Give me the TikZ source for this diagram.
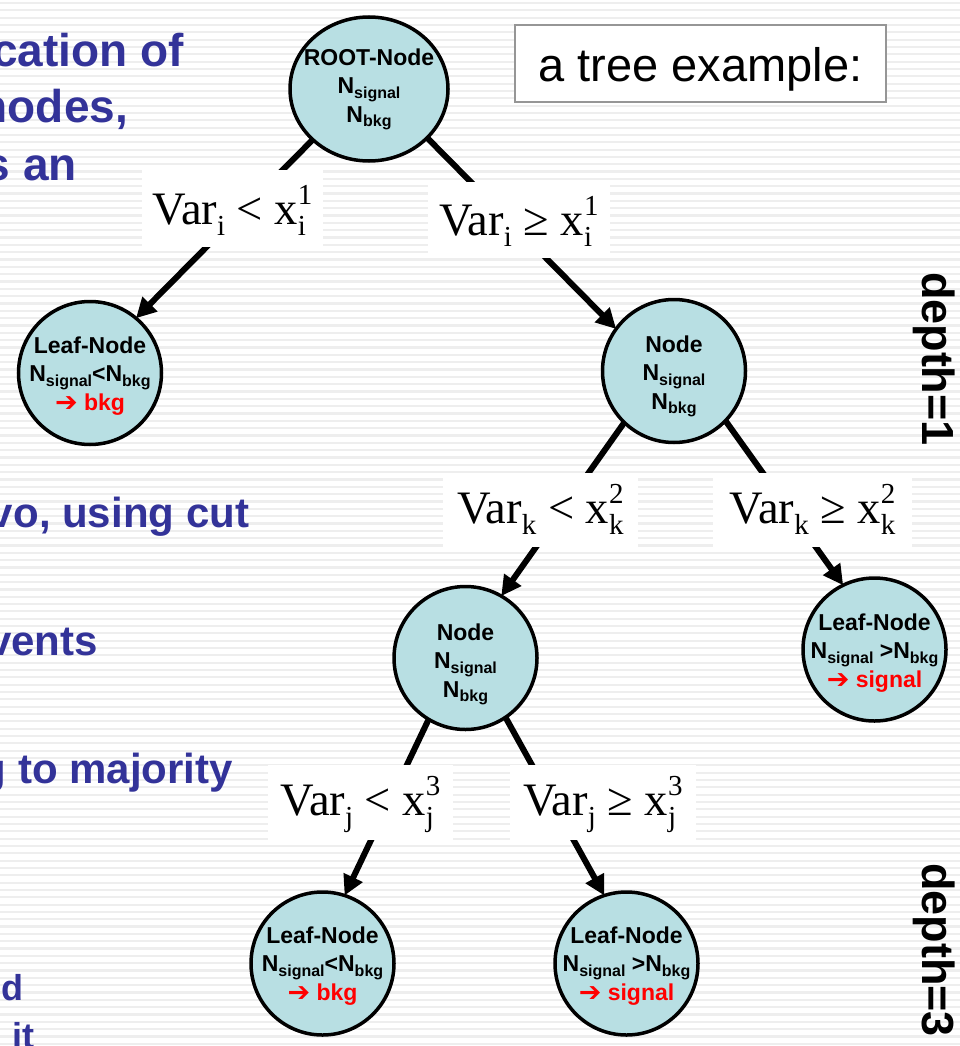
\documentclass[tikz,border=0pt]{standalone}
\usepackage{fontspec}
\setmainfont{Liberation Sans}
\newfontfamily\tnr{Liberation Serif}
\newfontfamily\djv{DejaVu Sans}
\usetikzlibrary{shapes.geometric,arrows.meta}
\definecolor{nodefill}{RGB}{184,223,227}
\definecolor{txtblue}{RGB}{51,51,153}
\definecolor{stripecol}{RGB}{238,238,238}
\definecolor{boxgray}{RGB}{150,150,150}
\pgfdeclarelayer{bg}
\pgfsetlayers{bg,main}
\newcommand{\sbs}[1]{\raisebox{-4.5pt}{\fontsize{16}{16}\selectfont #1}}
\newcommand{\rarr}{\raisebox{-1pt}{\djv\bfseries\fontsize{27}{27}\selectfont ➔}}
\newcommand{\smallfs}{\fontsize{29}{29}\selectfont}
\newcommand{\cnd}[4]{\fontsize{46.5}{46.5}\selectfont Var\raisebox{-11pt}{\smallfs #1}\ #2\ x\rlap{\raisebox{-11pt}{\smallfs #3}}\raisebox{20pt}{\smallfs #4}}
\begin{document}
\begin{tikzpicture}[x=1pt,y=-1pt,
  every node/.style={inner sep=0pt, outer sep=0pt},
  ellnode/.style={ellipse, draw=black, line width=3.5pt, fill=nodefill, minimum width=158pt, minimum height=144pt},
  circnode/.style={circle, draw=black, line width=3.5pt, fill=nodefill, minimum size=143pt},
  ntext/.style={anchor=north, align=center, font=\bfseries\fontsize{23}{28.5}\selectfont},
  connarrow/.style={line width=6pt, -{Triangle[length=20pt,width=20pt]}},
  condbox/.style={fill=white, font=\tnr, anchor=base, align=center},
  bluebig/.style={text=txtblue, font=\bfseries\fontsize{46}{46}\selectfont, anchor=base east},
  bluetext/.style={text=txtblue, font=\bfseries\fontsize{42}{42}\selectfont, anchor=base east},
  bluesmall/.style={text=txtblue, font=\bfseries\fontsize{36}{36}\selectfont, anchor=base east},
  depthlabel/.style={rotate=-90, anchor=base west, font=\bfseries\fontsize{45}{45}\selectfont}
]
\useasboundingbox (0,0) rectangle (960,1046);
\clip (0,0) rectangle (960,1046);

% tree nodes
\node[ellnode] (root) at (369,89) {};
\node[circnode] (leafL) at (90,373) {};
\node[circnode] (n1) at (674,371) {};
\node[circnode] (n2) at (465.5,658) {};
\node[circnode] (leafR) at (874.5,649.5) {};
\node[circnode] (leafBL) at (322.5,963.5) {};
\node[circnode] (leafBR) at (626.5,963.5) {};

% node texts
\node[ntext] (roott) at (369,48.4) {ROOT-Node\\N\sbs{signal}\\N\sbs{bkg}};
\node[ntext] (leafLt) at (90,336.4) {Leaf-Node\\N\sbs{signal}<N\sbs{bkg}\\\textcolor{red}{\rarr\ bkg}};
\node[ntext] (n1t) at (674,335.4) {Node\\N\sbs{signal}\\N\sbs{bkg}};
\node[ntext] (n2t) at (465.5,623.4) {Node\\N\sbs{signal}\\N\sbs{bkg}};
\node[ntext] (leafRt) at (874.5,613.4) {Leaf-Node\\N\sbs{signal} >N\sbs{bkg}\\\textcolor{red}{\rarr\ signal}};
\node[ntext] (leafBLt) at (322.5,926.4) {Leaf-Node\\N\sbs{signal}<N\sbs{bkg}\\\textcolor{red}{\rarr\ bkg}};
\node[ntext] (leafBRt) at (626.5,926.4) {Leaf-Node\\N\sbs{signal} >N\sbs{bkg}\\\textcolor{red}{\rarr\ signal}};

\begin{pgfonlayer}{bg}
  \fill[white] (0,0) rectangle (960,1046);
  \foreach \i in {0,...,143}
    \draw[stripecol, line width=2.2pt] (0,\i*7.33+3) -- (960,\i*7.33+3);
  \draw[connarrow] (root.222) -- (leafL.50);
  \draw[connarrow] (root.320) -- (n1.144);
  \draw[connarrow] (n1.226) -- (n2.60);
  \draw[connarrow] (n1.316) -- (leafR.116);
  \draw[connarrow] (n2.239) -- (leafBL.72);
  \draw[connarrow] (n2.304) -- (leafBR.108);
\end{pgfonlayer}

% condition labels
\node[condbox, text height=54pt, text depth=23pt, minimum width=181pt] (c1) at (232.5,224) {\cnd{i}{<}{i}{1}};
\node[condbox, text height=53pt, text depth=23pt, minimum width=182pt] (c2) at (519,235) {\cnd{i}{≥}{i}{1}};
\node[condbox, text height=50pt, text depth=24pt, minimum width=195pt] (c3) at (540.5,523) {\cnd{k}{<}{k}{2}};
\node[condbox, text height=50pt, text depth=24pt, minimum width=199pt] (c4) at (812.5,523) {\cnd{k}{≥}{k}{2}};
\node[condbox, text height=50pt, text depth=25pt, minimum width=185pt] (c5) at (360.5,815) {\cnd{j}{<}{j}{3}};
\node[condbox, text height=50pt, text depth=25pt, minimum width=186pt] (c6) at (603,815) {\cnd{j}{≥}{j}{3}};

% title box
\node[draw=boxgray, line width=1.2pt, fill=white, anchor=base, text height=57pt, text depth=20pt, minimum width=371pt, font=\fontsize{47}{47}\selectfont] (title) at (700.5,82) {a tree example:};

% depth labels
\node[depthlabel] (depth1) at (922,272) {depth=1};
\node[depthlabel] (depth3) at (922,863) {depth=3};

% left blue text (cut off at the page edge)
\node[bluebig] (t1) at (184,67) {cation of};
\node[bluebig] (t2) at (128,123) {nodes,};
\node[bluebig] (t3) at (77,180) {s an};
\node[bluetext] (t4) at (249,527) {vo, using cut};
\node[bluetext] (t5) at (98,655) {vents};
\node[bluetext] (t6) at (233,783) {g to majority};
\node[bluesmall] (t7) at (23,1000) {d};
\node[bluesmall] (t8) at (34,1048) {it};
\end{tikzpicture}
\end{document}
